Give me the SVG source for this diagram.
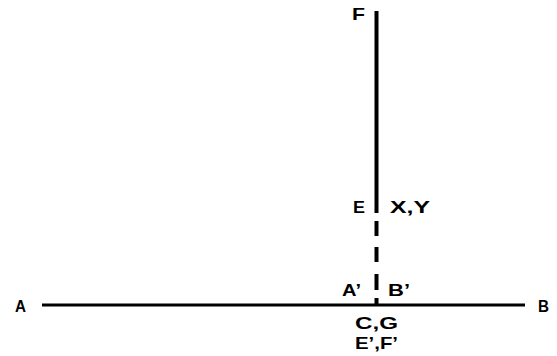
<svg xmlns="http://www.w3.org/2000/svg" width="557" height="356" viewBox="0 0 557 356">
<style>
.l{stroke:#000;stroke-linecap:butt;fill:none}
.t{font-family:"Liberation Sans",Arial,sans-serif;font-weight:bold;font-size:16.5px;fill:#000}
</style>
<rect width="557" height="356" fill="#fff"/>
<g id="connectors">
<line class="l" x1="42" y1="305" x2="525" y2="305" stroke-width="3"/>
<line class="l" x1="376.5" y1="11" x2="376.5" y2="213" stroke-width="4"/>
<line class="l" x1="376.5" y1="221" x2="376.5" y2="236" stroke-width="4"/>
<line class="l" x1="376.5" y1="247" x2="376.5" y2="262" stroke-width="4"/>
<line class="l" x1="376.5" y1="274" x2="376.5" y2="290" stroke-width="4"/>
<line class="l" x1="376.5" y1="298" x2="376.5" y2="305" stroke-width="4"/>
</g>
<g id="F"><text class="t" x="352" y="20" textLength="13" lengthAdjust="spacingAndGlyphs">F</text></g>
<g id="E"><text class="t" x="353" y="213" textLength="12" lengthAdjust="spacingAndGlyphs">E</text></g>
<g id="XY"><text class="t" x="390" y="213" textLength="40" lengthAdjust="spacingAndGlyphs">X,Y</text></g>
<g id="A1"><text class="t" x="342" y="296" textLength="19" lengthAdjust="spacingAndGlyphs">A’</text></g>
<g id="B1"><text class="t" x="388" y="296" textLength="22" lengthAdjust="spacingAndGlyphs">B’</text></g>
<g id="CG"><text class="t" x="355" y="329" textLength="43" lengthAdjust="spacingAndGlyphs">C,G</text></g>
<g id="EF"><text class="t" x="355" y="349" textLength="43" lengthAdjust="spacingAndGlyphs">E’,F’</text></g>
<g id="A"><text class="t" x="15" y="312" textLength="11" lengthAdjust="spacingAndGlyphs">A</text></g>
<g id="B"><text class="t" x="538" y="312" textLength="11" lengthAdjust="spacingAndGlyphs">B</text></g>
</svg>
